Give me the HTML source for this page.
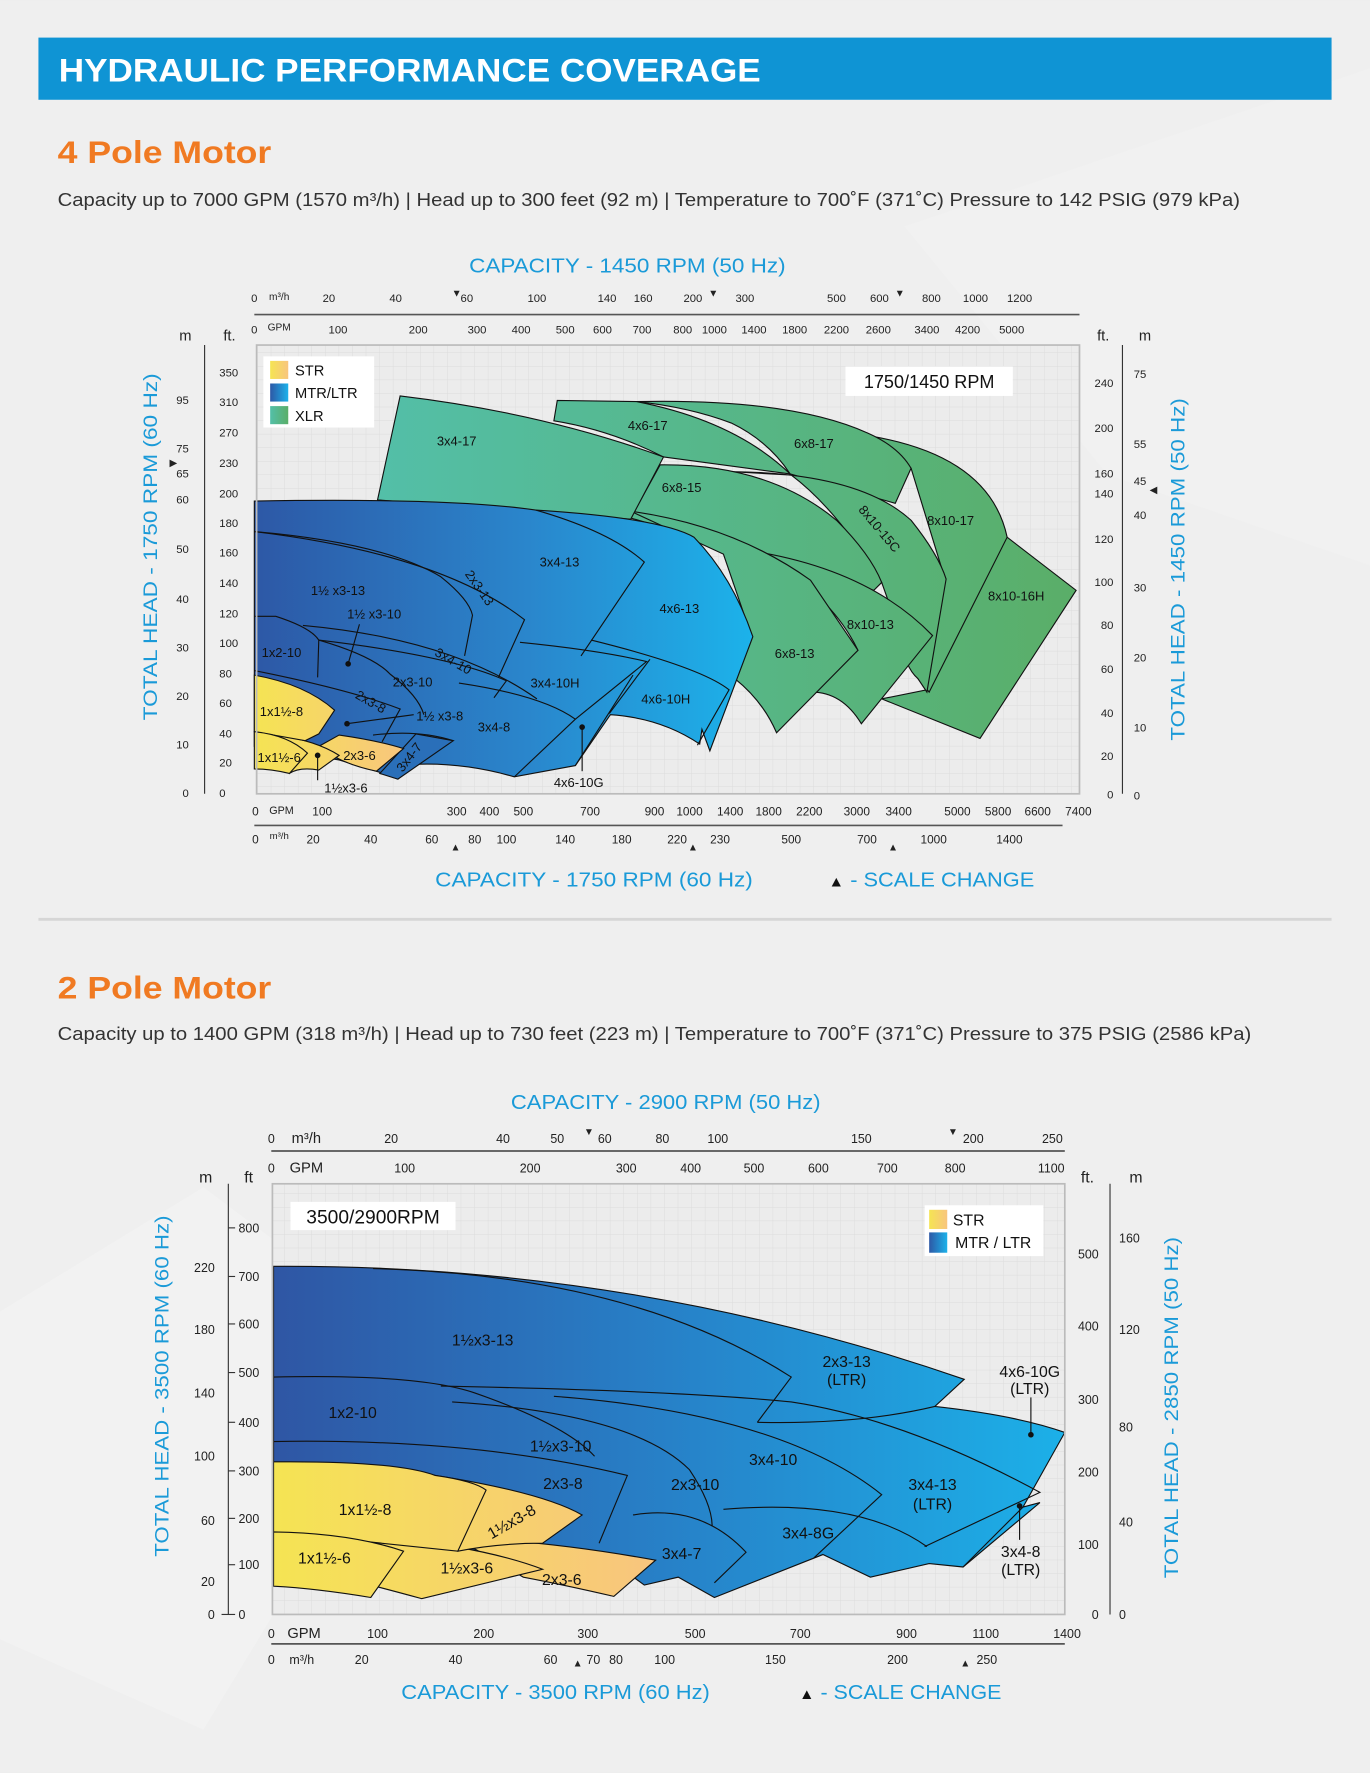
<!DOCTYPE html>
<html><head><meta charset="utf-8">
<style>
html,body{margin:0;padding:0;background:#efefef;}
svg{display:block;}
text{font-family:"Liberation Sans",sans-serif;}
</style></head>
<body>
<svg width="1370" height="1773" viewBox="0 0 1212 1568" xmlns="http://www.w3.org/2000/svg">
<defs>
<linearGradient id="gb" gradientUnits="userSpaceOnUse" x1="225" x2="665" y1="0" y2="0"><stop offset="0" stop-color="#2d58a6"/><stop offset="0.55" stop-color="#2a86cc"/><stop offset="1" stop-color="#1cb2ea"/></linearGradient>
<linearGradient id="gb2" gradientUnits="userSpaceOnUse" x1="242" x2="942" y1="0" y2="0"><stop offset="0" stop-color="#2f56a4"/><stop offset="0.5" stop-color="#2781c8"/><stop offset="1" stop-color="#1cb0e8"/></linearGradient>
<linearGradient id="gl" x1="0" x2="1" y1="0" y2="0"><stop offset="0" stop-color="#2d58a6"/><stop offset="1" stop-color="#1cb2ea"/></linearGradient>
<linearGradient id="gg" gradientUnits="userSpaceOnUse" x1="334" x2="952" y1="0" y2="0"><stop offset="0" stop-color="#53bfa8"/><stop offset="1" stop-color="#5aae68"/></linearGradient>
<linearGradient id="gg2" x1="0" x2="1" y1="0" y2="0"><stop offset="0" stop-color="#53bfa8"/><stop offset="1" stop-color="#5aae68"/></linearGradient>
<linearGradient id="gy" gradientUnits="userSpaceOnUse" x1="225" x2="360" y1="0" y2="0"><stop offset="0" stop-color="#f5e453"/><stop offset="1" stop-color="#f8c57e"/></linearGradient>
<linearGradient id="gy2" gradientUnits="userSpaceOnUse" x1="242" x2="580" y1="0" y2="0"><stop offset="0" stop-color="#f5e453"/><stop offset="1" stop-color="#f8c57e"/></linearGradient>
<linearGradient id="gyl" x1="0" x2="1" y1="0" y2="0"><stop offset="0" stop-color="#f5e453"/><stop offset="1" stop-color="#f8c57e"/></linearGradient>
<pattern id="grid" width="12" height="12" patternUnits="userSpaceOnUse"><path d="M12 0V12H0" fill="none" stroke="#dcdcdc" stroke-width="0.8"/></pattern>
</defs>
<rect width="1212" height="1568" fill="#efefef"/>
<polygon points="0,1160 180,1050 380,1200 180,1530 0,1450" fill="#f3f3f3" opacity="0.6"/>
<polygon points="800,200 1212,60 1212,500 980,420" fill="#f2f2f2" opacity="0.6"/>

<!-- banner -->
<rect x="34" y="33" width="1144" height="55" fill="#0f94d4"/>
<text x="52" y="72" font-size="29" font-weight="bold" fill="#fff" textLength="621" lengthAdjust="spacingAndGlyphs">HYDRAULIC PERFORMANCE COVERAGE</text>

<text x="51" y="144" font-size="28" font-weight="bold" fill="#f07a22" textLength="189" lengthAdjust="spacingAndGlyphs">4 Pole Motor</text>
<text x="51" y="182" font-size="16" fill="#333" textLength="1046" lengthAdjust="spacingAndGlyphs">Capacity up to 7000 GPM (1570 m³/h) | Head up to 300 feet (92 m) | Temperature to 700˚F (371˚C) Pressure to 142 PSIG (979 kPa)</text>

<!-- ============ CHART 1 ============ -->
<text x="415" y="241" font-size="18" fill="#1a9ad8" textLength="280" lengthAdjust="spacingAndGlyphs">CAPACITY - 1450 RPM (50 Hz)</text>
<g font-size="10" fill="#222" text-anchor="middle">
<text x="225" y="267">0</text><text x="247" y="265" font-size="9">m³/h</text><text x="291" y="267">20</text><text x="350" y="267">40</text><text x="413" y="267">60</text><text x="475" y="267">100</text><text x="537" y="267">140</text><text x="569" y="267">160</text><text x="613" y="267">200</text><text x="659" y="267">300</text><text x="740" y="267">500</text><text x="778" y="267">600</text><text x="824" y="267">800</text><text x="863" y="267">1000</text><text x="902" y="267">1200</text>
<text x="404" y="262" font-size="9">▼</text><text x="631" y="262" font-size="9">▼</text><text x="796" y="262" font-size="9">▼</text>
<text x="225" y="295">0</text><text x="247" y="292" font-size="9">GPM</text><text x="299" y="295">100</text><text x="370" y="295">200</text><text x="422" y="295">300</text><text x="461" y="295">400</text><text x="500" y="295">500</text><text x="533" y="295">600</text><text x="568" y="295">700</text><text x="604" y="295">800</text><text x="632" y="295">1000</text><text x="667" y="295">1400</text><text x="703" y="295">1800</text><text x="740" y="295">2200</text><text x="777" y="295">2600</text><text x="820" y="295">3400</text><text x="856" y="295">4200</text><text x="895" y="295">5000</text>
</g>
<line x1="225" y1="278" x2="955" y2="278" stroke="#555" stroke-width="1.5"/>

<rect x="227" y="305" width="728" height="397" fill="#ececec"/>
<rect x="227" y="305" width="728" height="397" fill="url(#grid)"/>

<!-- green -->
<g stroke="#111" stroke-width="1" fill="url(#gg)">
<path d="M880,478 L891,475 L952,522 L867,653 L780,618 L820,610 L836,512 Z"/>
<path d="M760,384 Q875,400 891,475 L822,612 L812,600 L836,512 L806,414 Z"/>
<path d="M563,355 Q700,352 768,383 Q795,395 806,414 L792,445 L699,419 Q680,390 647,374 Q610,360 563,355 Z"/>
<path d="M493,354 L563,355 Q650,372 699,419 L587,404 Q540,380 490,372 Z"/>
<path d="M647,417 Q760,418 806,460 Q830,490 837,512 L820,612 L812,600 Q800,590 796,560 L780,515 Q740,450 700,420 Z"/>
<path d="M584,411 Q680,410 740,460 Q770,490 780,515 L773,522 L700,500 L558,458 Z"/>
<path d="M670,488 Q770,505 825,562 L762,640 Q745,612 718,612 L759,575 Q735,525 670,488 Z"/>
<path d="M558,452 Q650,465 717,513 L759,575 L687,648 Q675,620 650,600 L665,563 L640,490 Z"/>
<path d="M354,350 Q480,365 587,404 L558,459 L334,442 Z"/>
</g>
<!-- blue -->
<path d="M225,443 Q400,440 474,451 Q585,458 614,475 Q648,510 666,563 L628,664 L621,645 L619,658 Q585,635 540,632 L509,677 L455,687 Q410,674 366,676 L352,689 L336,683 L300,672 L225,660 Z" fill="url(#gb)" stroke="#111" stroke-width="1"/>
<g fill="none" stroke="#111" stroke-width="1">
<path d="M474,451 Q540,470 570,497 L514,580"/>
<path d="M225,470 Q390,490 464,548 L441,599"/>
<path d="M225,470 Q340,480 390,510 Q415,530 418,544 L411,580"/>
<path d="M225,545 L244,545 Q275,555 282,566 L281,599"/>
<path d="M268,553 Q400,565 475,618"/>
<path d="M282,566 Q400,580 448,602 L437,617"/>
<path d="M460,568 Q530,575 572,585 L509,636"/>
<path d="M523,566 Q620,590 645,610 L617,659"/>
<path d="M539,631 L575,583"/>
<path d="M560,597 L509,677"/>
<path d="M406,604 Q480,615 509,636 L455,687"/>
<path d="M282,566 Q330,580 345,596 Q370,615 375,632"/>
<path d="M225,593 Q310,610 354,627 L338,656"/>
<path d="M330,650 Q370,645 401,655"/>
</g>
<path d="M368,649 L401,655 L352,689 L336,684 Z" fill="#2a6fb9" stroke="#111" stroke-width="1"/>
<!-- STR -->
<g fill="url(#gy)" stroke="#111" stroke-width="1">
<path d="M300,650 Q335,655 357,662 L333,682 Q300,675 282,660 Z"/>
<path d="M245,650 Q280,655 300,668 L282,681 Q265,678 256,684 Z"/>
<path d="M225,597 Q270,605 296,628 L282,649 L270,655 L225,647 Z"/>
<path d="M225,647 Q255,650 272,666 L256,684 Q240,680 225,680 Z"/>
</g>
<!-- pointers -->
<g stroke="#111" stroke-width="1" fill="#111">
<line x1="308" y1="587" x2="318" y2="552"/><circle cx="308" cy="587" r="2"/>
<line x1="307" y1="640" x2="366" y2="632"/><circle cx="307" cy="640" r="2"/>
<line x1="281" y1="668" x2="281" y2="690"/><circle cx="281" cy="668" r="2"/>
<line x1="515" y1="643" x2="515" y2="682"/><circle cx="515" cy="643" r="2"/>
</g>
<g font-size="11.5" fill="#111" text-anchor="middle">
<text x="404" y="394">3x4-17</text><text x="573" y="380">4x6-17</text><text x="720" y="396">6x8-17</text><text x="603" y="435">6x8-15</text>
<text transform="translate(775,470) rotate(50)">8x10-15C</text>
<text x="841" y="464">8x10-17</text><text x="899" y="531">8x10-16H</text><text x="770" y="556">8x10-13</text><text x="703" y="582">6x8-13</text>
<text x="601" y="542">4x6-13</text><text x="495" y="501">3x4-13</text>
<text transform="translate(421,522) rotate(55)">2x3-13</text>
<text x="299" y="526">1½ x3-13</text><text x="331" y="547">1½ x3-10</text><text x="249" y="581">1x2-10</text>
<text transform="translate(399,588) rotate(30)">3x4-10</text>
<text x="365" y="607">2x3-10</text><text x="491" y="608">3x4-10H</text><text x="589" y="622">4x6-10H</text>
<text transform="translate(326,624) rotate(30)">2x3-8</text>
<text x="389" y="637">1½ x3-8</text><text x="437" y="647">3x4-8</text>
<text transform="translate(365,672) rotate(-52)">3x4-7</text>
<text x="249" y="633">1x1½-8</text><text x="247" y="674">1x1½-6</text><text x="318" y="672">2x3-6</text>
<text x="306" y="701">1½x3-6</text><text x="512" y="696">4x6-10G</text>
</g>
<!-- legend 1 -->
<rect x="233" y="315" width="98" height="63" fill="#fff"/>
<rect x="239" y="319" width="16" height="16" fill="url(#gyl)"/>
<rect x="239" y="339" width="16" height="16" fill="url(#gl)"/>
<rect x="239" y="359" width="16" height="16" fill="url(#gg2)"/>
<g font-size="13" fill="#111"><text x="261" y="332">STR</text><text x="261" y="352">MTR/LTR</text><text x="261" y="372">XLR</text></g>
<rect x="748" y="324" width="148" height="26" fill="#fff"/>
<text x="822" y="343" font-size="16" fill="#111" text-anchor="middle">1750/1450 RPM</text>
<rect x="227" y="305" width="728" height="397" fill="none" stroke="#bbb" stroke-width="1.5"/>

<!-- left axes chart1 -->
<line x1="181" y1="305" x2="181" y2="702" stroke="#333" stroke-width="1"/>
<g font-size="10" fill="#222">
<text x="164" y="301" font-size="13" text-anchor="middle">m</text><text x="203" y="301" font-size="13" text-anchor="middle">ft.</text>
<g text-anchor="end"><text x="167" y="357">95</text><text x="167" y="400">75</text><text x="167" y="422">65</text><text x="167" y="445">60</text><text x="167" y="489">50</text><text x="167" y="533">40</text><text x="167" y="576">30</text><text x="167" y="619">20</text><text x="167" y="662">10</text><text x="167" y="705">0</text></g>
<text x="150" y="412" font-size="9">▶</text>
<g text-anchor="start"><text x="194" y="333">350</text><text x="194" y="359">310</text><text x="194" y="386">270</text><text x="194" y="413">230</text><text x="194" y="440">200</text><text x="194" y="466">180</text><text x="194" y="492">160</text><text x="194" y="519">140</text><text x="194" y="546">120</text><text x="194" y="572">100</text><text x="194" y="599">80</text><text x="194" y="625">60</text><text x="194" y="652">40</text><text x="194" y="678">20</text><text x="194" y="705">0</text></g>
</g>
<text transform="translate(139,637) rotate(-90)" font-size="17" fill="#1a9ad8" textLength="307" lengthAdjust="spacingAndGlyphs">TOTAL HEAD - 1750 RPM (60 Hz)</text>
<!-- right axes chart1 -->
<line x1="993" y1="305" x2="993" y2="702" stroke="#333" stroke-width="1"/>
<g font-size="10" fill="#222">
<text x="976" y="301" font-size="13" text-anchor="middle">ft.</text><text x="1013" y="301" font-size="13" text-anchor="middle">m</text>
<g text-anchor="end"><text x="985" y="342">240</text><text x="985" y="382">200</text><text x="985" y="422">160</text><text x="985" y="440">140</text><text x="985" y="480">120</text><text x="985" y="518">100</text><text x="985" y="556">80</text><text x="985" y="595">60</text><text x="985" y="634">40</text><text x="985" y="672">20</text><text x="985" y="706">0</text></g>
<g text-anchor="start"><text x="1003" y="334">75</text><text x="1003" y="396">55</text><text x="1003" y="429">45</text><text x="1003" y="459">40</text><text x="1003" y="523">30</text><text x="1003" y="585">20</text><text x="1003" y="647">10</text><text x="1003" y="707">0</text></g>
<text x="1017" y="436" font-size="9">◀</text>
</g>
<text transform="translate(1048,655) rotate(-90)" font-size="17" fill="#1a9ad8" textLength="303" lengthAdjust="spacingAndGlyphs">TOTAL HEAD - 1450 RPM (50 Hz)</text>
<!-- bottom axes chart1 -->
<g font-size="10.5" fill="#222" text-anchor="middle">
<text x="226" y="721">0</text><text x="249" y="720" font-size="9.5">GPM</text><text x="285" y="721">100</text><text x="404" y="721">300</text><text x="433" y="721">400</text><text x="463" y="721">500</text><text x="522" y="721">700</text><text x="579" y="721">900</text><text x="610" y="721">1000</text><text x="646" y="721">1400</text><text x="680" y="721">1800</text><text x="716" y="721">2200</text><text x="758" y="721">3000</text><text x="795" y="721">3400</text><text x="847" y="721">5000</text><text x="883" y="721">5800</text><text x="918" y="721">6600</text><text x="954" y="721">7400</text>
<text x="226" y="746">0</text><text x="247" y="742" font-size="8.5">m³/h</text><text x="277" y="746">20</text><text x="328" y="746">40</text><text x="382" y="746">60</text><text x="420" y="746">80</text><text x="448" y="746">100</text><text x="500" y="746">140</text><text x="550" y="746">180</text><text x="599" y="746">220</text><text x="637" y="746">230</text><text x="700" y="746">500</text><text x="767" y="746">700</text><text x="826" y="746">1000</text><text x="893" y="746">1400</text>
<text x="403" y="752" font-size="9">▲</text><text x="613" y="752" font-size="9">▲</text><text x="790" y="752" font-size="9">▲</text>
</g>
<line x1="225" y1="730" x2="940" y2="730" stroke="#555" stroke-width="1.5"/>
<text x="385" y="784" font-size="18" fill="#1a9ad8" textLength="281" lengthAdjust="spacingAndGlyphs">CAPACITY - 1750 RPM (60 Hz)</text>
<text x="733" y="784" font-size="18" fill="#1a9ad8" textLength="182" lengthAdjust="spacingAndGlyphs"><tspan fill="#111" font-size="13">▲</tspan> - SCALE CHANGE</text>

<line x1="34" y1="813" x2="1178" y2="813" stroke="#d6d6d6" stroke-width="2.5"/>

<!-- ============ CHART 2 ============ -->
<text x="51" y="883" font-size="28" font-weight="bold" fill="#f07a22" textLength="189" lengthAdjust="spacingAndGlyphs">2 Pole Motor</text>
<text x="51" y="920" font-size="16" fill="#333" textLength="1056" lengthAdjust="spacingAndGlyphs">Capacity up to 1400 GPM (318 m³/h) | Head up to 730 feet (223 m) | Temperature to 700˚F (371˚C) Pressure to 375 PSIG (2586 kPa)</text>

<text x="452" y="981" font-size="18" fill="#1a9ad8" textLength="274" lengthAdjust="spacingAndGlyphs">CAPACITY - 2900 RPM (50 Hz)</text>
<g font-size="11" fill="#222" text-anchor="middle">
<text x="240" y="1011">0</text><text x="271" y="1011" font-size="13">m³/h</text><text x="346" y="1011">20</text><text x="445" y="1011">40</text><text x="493" y="1011">50</text><text x="535" y="1011">60</text><text x="586" y="1011">80</text><text x="635" y="1011">100</text><text x="762" y="1011">150</text><text x="861" y="1011">200</text><text x="931" y="1011">250</text>
<text x="521" y="1004" font-size="9">▼</text><text x="843" y="1004" font-size="9">▼</text>
<text x="240" y="1037">0</text><text x="271" y="1037" font-size="13">GPM</text><text x="358" y="1037">100</text><text x="469" y="1037">200</text><text x="554" y="1037">300</text><text x="611" y="1037">400</text><text x="667" y="1037">500</text><text x="724" y="1037">600</text><text x="785" y="1037">700</text><text x="845" y="1037">800</text><text x="930" y="1037">1100</text>
</g>
<line x1="240" y1="1018" x2="942" y2="1018" stroke="#555" stroke-width="1.5"/>

<rect x="241" y="1047" width="701" height="381" fill="#ececec"/>
<rect x="241" y="1047" width="701" height="381" fill="url(#grid)"/>

<path d="M242,1120 Q560,1118 853,1220 L827,1244 Q900,1252 942,1267 L905,1333 L920,1329 L852,1386 L822,1383 L770,1395 L728,1375 L632,1413 L600,1395 L570,1402 L540,1380 L242,1380 Z" fill="url(#gb2)" stroke="#111" stroke-width="1"/>
<g fill="none" stroke="#111" stroke-width="1">
<path d="M330,1122 Q560,1128 700,1218 L670,1258"/>
<path d="M242,1218 Q370,1215 420,1232 Q500,1260 526,1288"/>
<path d="M390,1226 Q600,1230 700,1240 Q800,1255 920,1320 L818,1368"/>
<path d="M670,1258 Q760,1260 827,1244"/>
<path d="M242,1275 Q420,1272 555,1305 L530,1365"/>
<path d="M400,1240 Q560,1250 610,1300 Q630,1330 630,1350"/>
<path d="M490,1235 Q690,1250 780,1322 L720,1378"/>
<path d="M640,1335 Q760,1325 820,1368"/>
<path d="M560,1340 Q620,1330 660,1373 L632,1400"/>
<path d="M852,1386 L905,1333"/>
</g>
<g fill="url(#gy2)" stroke="#111" stroke-width="1">
<path d="M380,1360 Q470,1360 580,1380 L543,1412 Q500,1402 463,1395 L420,1370 Z"/>
<path d="M300,1356 Q420,1365 480,1388 L373,1414 Q340,1405 320,1400 Z"/>
<path d="M385,1305 Q480,1320 515,1340 L480,1365 Q440,1365 405,1372 Z"/>
<path d="M242,1293 Q350,1292 385,1305 Q420,1310 430,1318 L405,1372 L242,1355 Z"/>
<path d="M242,1355 Q310,1356 357,1372 L328,1413 Q280,1405 242,1403 Z"/>
</g>
<g stroke="#111" stroke-width="1" fill="#111">
<line x1="912" y1="1269" x2="912" y2="1236"/><circle cx="912" cy="1269" r="2"/>
<line x1="902" y1="1332" x2="902" y2="1362"/><circle cx="902" cy="1332" r="2"/>
</g>
<g font-size="14" fill="#111" text-anchor="middle">
<text x="427" y="1190">1½x3-13</text><text x="749" y="1209">2x3-13</text><text x="749" y="1225">(LTR)</text>
<text x="911" y="1218">4x6-10G</text><text x="911" y="1233">(LTR)</text>
<text x="312" y="1254">1x2-10</text><text x="496" y="1284">1½x3-10</text><text x="498" y="1317">2x3-8</text><text x="615" y="1318">2x3-10</text><text x="684" y="1296">3x4-10</text>
<text x="825" y="1318">3x4-13</text><text x="825" y="1335">(LTR)</text>
<text x="323" y="1340">1x1½-8</text><text transform="translate(455,1350) rotate(-30)">1½x3-8</text>
<text x="715" y="1361">3x4-8G</text><text x="603" y="1379">3x4-7</text><text x="287" y="1383">1x1½-6</text><text x="413" y="1392">1½x3-6</text><text x="497" y="1402">2x3-6</text>
<text x="903" y="1377">3x4-8</text><text x="903" y="1393">(LTR)</text>
</g>
<rect x="818" y="1066" width="105" height="45" fill="#fff"/>
<rect x="822" y="1070" width="16" height="17" fill="url(#gyl)"/>
<rect x="822" y="1090" width="16" height="18" fill="url(#gl)"/>
<g font-size="14" fill="#111"><text x="843" y="1084">STR</text><text x="845" y="1104">MTR / LTR</text></g>
<rect x="257" y="1063" width="146" height="25" fill="#fff"/>
<text x="330" y="1082" font-size="17" fill="#111" text-anchor="middle">3500/2900RPM</text>
<rect x="241" y="1047" width="701" height="381" fill="none" stroke="#bbb" stroke-width="1.5"/>

<!-- left axes chart2 -->
<line x1="202" y1="1047" x2="202" y2="1428" stroke="#333" stroke-width="1"/>
<g font-size="11" fill="#222">
<text x="182" y="1046" font-size="14" text-anchor="middle">m</text><text x="220" y="1046" font-size="14" text-anchor="middle">ft</text>
<g text-anchor="end"><text x="190" y="1125">220</text><text x="190" y="1180">180</text><text x="190" y="1236">140</text><text x="190" y="1292">100</text><text x="190" y="1349">60</text><text x="190" y="1403">20</text><text x="190" y="1432">0</text></g>
<g text-anchor="start"><text x="211" y="1090">800</text><text x="211" y="1133">700</text><text x="211" y="1175">600</text><text x="211" y="1218">500</text><text x="211" y="1262">400</text><text x="211" y="1305">300</text><text x="211" y="1347">200</text><text x="211" y="1388">100</text><text x="211" y="1432">0</text></g>
</g>
<g stroke="#333"><line x1="202" y1="1086" x2="208" y2="1086"/><line x1="202" y1="1129" x2="208" y2="1129"/><line x1="202" y1="1171" x2="208" y2="1171"/><line x1="202" y1="1214" x2="208" y2="1214"/><line x1="202" y1="1258" x2="208" y2="1258"/><line x1="202" y1="1301" x2="208" y2="1301"/><line x1="202" y1="1343" x2="208" y2="1343"/><line x1="202" y1="1384" x2="208" y2="1384"/><line x1="196" y1="1428" x2="208" y2="1428"/></g>
<text transform="translate(149,1377) rotate(-90)" font-size="17" fill="#1a9ad8" textLength="302" lengthAdjust="spacingAndGlyphs">TOTAL HEAD - 3500 RPM (60 Hz)</text>
<!-- right axes chart2 -->
<line x1="982" y1="1047" x2="982" y2="1428" stroke="#333" stroke-width="1"/>
<g font-size="11" fill="#222">
<text x="962" y="1046" font-size="14" text-anchor="middle">ft.</text><text x="1005" y="1046" font-size="14" text-anchor="middle">m</text>
<g text-anchor="end"><text x="972" y="1113">500</text><text x="972" y="1177">400</text><text x="972" y="1242">300</text><text x="972" y="1306">200</text><text x="972" y="1370">100</text><text x="972" y="1432">0</text></g>
<g text-anchor="start"><text x="990" y="1099">160</text><text x="990" y="1180">120</text><text x="990" y="1266">80</text><text x="990" y="1350">40</text><text x="990" y="1432">0</text></g>
</g>
<text transform="translate(1042,1396) rotate(-90)" font-size="17" fill="#1a9ad8" textLength="302" lengthAdjust="spacingAndGlyphs">TOTAL HEAD - 2850 RPM (50 Hz)</text>
<!-- bottom axes chart2 -->
<g font-size="11" fill="#222" text-anchor="middle">
<text x="240" y="1449">0</text><text x="269" y="1449" font-size="13">GPM</text><text x="334" y="1449">100</text><text x="428" y="1449">200</text><text x="520" y="1449">300</text><text x="615" y="1449">500</text><text x="708" y="1449">700</text><text x="802" y="1449">900</text><text x="872" y="1449">1100</text><text x="944" y="1449">1400</text>
<text x="240" y="1472">0</text><text x="267" y="1472" font-size="11">m³/h</text><text x="320" y="1472">20</text><text x="403" y="1472">40</text><text x="487" y="1472">60</text><text x="525" y="1472">70</text><text x="545" y="1472">80</text><text x="588" y="1472">100</text><text x="686" y="1472">150</text><text x="794" y="1472">200</text><text x="873" y="1472">250</text>
<text x="511" y="1474" font-size="9">▲</text><text x="854" y="1474" font-size="9">▲</text>
</g>
<line x1="240" y1="1454" x2="942" y2="1454" stroke="#555" stroke-width="1.5"/>
<text x="355" y="1503" font-size="18" fill="#1a9ad8" textLength="273" lengthAdjust="spacingAndGlyphs">CAPACITY - 3500 RPM (60 Hz)</text>
<text x="707" y="1503" font-size="18" fill="#1a9ad8" textLength="179" lengthAdjust="spacingAndGlyphs"><tspan fill="#111" font-size="13">▲</tspan> - SCALE CHANGE</text>
</svg>
</body></html>
